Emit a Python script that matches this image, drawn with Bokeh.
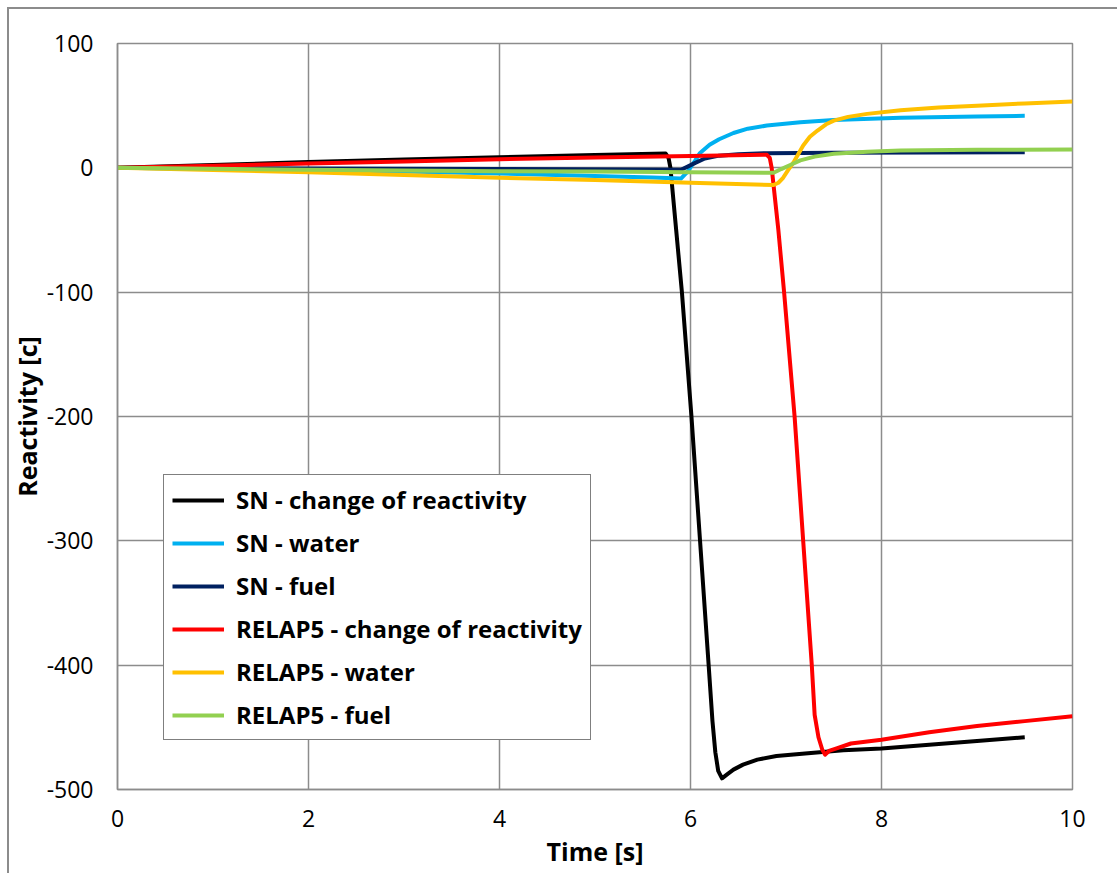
from bokeh.plotting import figure
from bokeh.models import Range1d, Legend, LegendItem, FixedTicker, NumeralTickFormatter, InlineStyleSheet
from bokeh.embed import file_html
from bokeh.resources import INLINE

# ---- data ----
sn_change_t = [0, 1, 2, 3, 4, 5, 5.74, 5.77, 5.79, 5.85, 5.91, 6.01, 6.10, 6.19, 6.23, 6.26, 6.29,
               6.33, 6.38, 6.45, 6.55, 6.7, 6.9, 7.2, 7.6, 8.0, 8.5, 9.0, 9.5]
sn_change_v = [0, 2.3, 4.6, 6.7, 8.5, 10.3, 11.5, 8, 0, -50, -100, -200, -300, -400, -445, -470, -485,
               -491, -488, -484, -480, -476, -473, -471, -468.5, -467, -464, -461, -458]

sn_water_t = [0, 1, 2, 3, 4, 5, 5.6, 5.9, 5.97, 6.05, 6.1, 6.2, 6.3, 6.45, 6.6, 6.8, 7.15, 7.5, 8.2, 9.0, 9.5]
sn_water_v = [0, -1, -2, -3, -4.5, -6.5, -7.8, -8.6, -3, 6, 12, 18.5, 23, 28, 31.5, 34, 36.7, 38.5, 40.2, 41.2, 41.8]

sn_fuel_t = [0, 2, 4, 5.9, 5.97, 6.05, 6.15, 6.3, 6.5, 6.8, 7.5, 8.5, 9.5]
sn_fuel_v = [0, -0.5, -1.0, -1.5, 1, 4, 7.5, 9.8, 11, 11.8, 12.2, 12.4, 12.5]

relap_change_t = [0, 1, 2, 3, 4, 5, 6, 6.80, 6.83, 6.85, 6.92, 6.98, 7.09, 7.18, 7.27, 7.30, 7.34, 7.38,
                  7.41, 7.45, 7.53, 7.68, 8.0, 8.5, 9.0, 9.5, 10]
relap_change_v = [0, 1.7, 3.4, 5.0, 7.0, 8.3, 9.6, 10.5, 8, 0, -50, -100, -200, -300, -400, -440, -458, -468,
                  -472, -469, -467, -463, -460, -454, -449, -445, -441]

relap_water_t = [0, 1, 2, 3, 4, 5, 6, 6.87, 6.92, 6.97, 7.02, 7.08, 7.18, 7.25, 7.33, 7.42, 7.5, 7.65,
                 7.85, 8.2, 8.6, 9.0, 9.5, 10]
relap_water_v = [0, -1.8, -3.6, -5.8, -8, -9.7, -12, -13.8, -12, -8, -2, 4.5, 18, 25, 30, 35, 38, 41,
                 43.4, 46.3, 48.5, 50, 51.8, 53.3]

relap_fuel_t = [0, 2, 4, 5, 6, 6.87, 6.95, 7.05, 7.15, 7.3, 7.5, 7.85, 8.2, 9.0, 10]
relap_fuel_v = [0, -1.5, -2.8, -3.0, -3.5, -4, -1, 2.5, 6, 9, 11.3, 13, 14, 14.5, 14.8]

series_names = ["SN - change of reactivity", "SN - water", "SN - fuel",
                "RELAP5 - change of reactivity", "RELAP5 - water", "RELAP5 - fuel"]
series_colors = ["#000000", "#00B0F0", "#002060", "#FF0000", "#FFC000", "#92D050"]

x_ticks = [0, 2, 4, 6, 8, 10]
y_ticks = [100, 0, -100, -200, -300, -400, -500]

FONT = "Open Sans"
GRID = "#8c8c8c"

p = figure(width=1117, height=873, output_backend="svg", toolbar_location=None,
           x_range=Range1d(0, 10), y_range=Range1d(-500, 100),
           min_border_left=117, min_border_right=45, min_border_top=43, min_border_bottom=84)

p.outline_line_color = GRID
p.outline_line_width = 1.5
p.background_fill_color = "white"
p.border_fill_color = "white"

for g in (p.xgrid, p.ygrid):
    g.grid_line_color = GRID
    g.grid_line_width = 1.5
p.xaxis.ticker = FixedTicker(ticks=x_ticks)
p.yaxis.ticker = FixedTicker(ticks=y_ticks)
p.xgrid.ticker = FixedTicker(ticks=x_ticks)
p.ygrid.ticker = FixedTicker(ticks=y_ticks)
p.xaxis.formatter = NumeralTickFormatter(format="0")
p.yaxis.formatter = NumeralTickFormatter(format="0")

for ax in (p.xaxis, p.yaxis):
    ax.axis_line_color = GRID
    ax.axis_line_width = 1.5
    ax.major_tick_line_color = None
    ax.minor_tick_line_color = None
    ax.major_tick_out = 0
    ax.major_tick_in = 0
    ax.major_label_text_font = FONT
    ax.major_label_text_font_size = "23px"
    ax.major_label_text_color = "#000000"
    ax.axis_label_text_font = FONT
    ax.axis_label_text_font_size = "25px"
    ax.axis_label_text_font_style = "bold"
    ax.axis_label_text_color = "#000000"

p.xaxis.axis_label = "Time [s]"
p.yaxis.axis_label = "Reactivity [c]"
p.xaxis.major_label_standoff = 20
p.yaxis.major_label_standoff = 24
p.xaxis.axis_label_standoff = 4
p.yaxis.axis_label_standoff = 0

data = [(sn_change_t, sn_change_v), (sn_water_t, sn_water_v), (sn_fuel_t, sn_fuel_v),
        (relap_change_t, relap_change_v), (relap_water_t, relap_water_v), (relap_fuel_t, relap_fuel_v)]

items = []
for (t, v), name, col in zip(data, series_names, series_colors):
    r = p.line(t, v, line_color=col, line_width=4, line_join="round")
    items.append(LegendItem(label=name, renderers=[r]))

legend = Legend(items=items, location=(46, 49))
legend.label_text_font = FONT
legend.label_text_font_size = "24px"
legend.label_text_font_style = "bold"
legend.label_text_color = "#000000"
legend.glyph_width = 52
legend.glyph_height = 30
legend.label_height = 30
legend.label_standoff = 12
legend.spacing = 10
legend.padding = 8
legend.margin = 0
legend.border_line_color = "#000000"
legend.border_line_width = 1.5
legend.background_fill_alpha = 1.0
p.add_layout(legend, "center")

# outer chart-area border (left and top edges visible in the reference)
p.stylesheets = [InlineStyleSheet(css=(
    ":host::after { content: ''; position: absolute; left: 7px; top: 7px; right: 0px; bottom: 0px; "
    "border-left: 2px solid #8c8c8c; border-top: 2px solid #8c8c8c; pointer-events: none; z-index: 100; }"))]

open("out.html", "w").write(file_html(p, INLINE))
